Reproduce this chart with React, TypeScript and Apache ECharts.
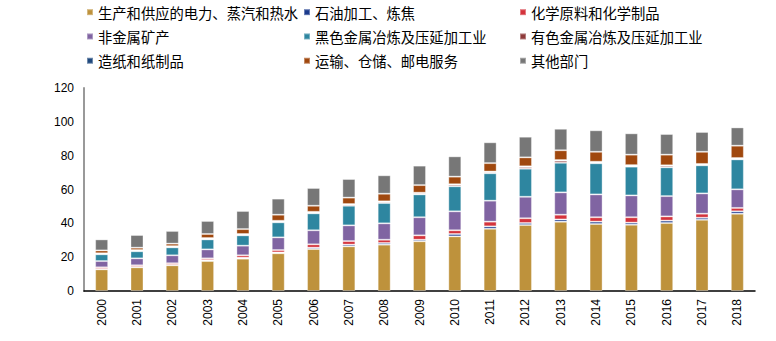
import React, { useEffect, useRef } from "react";
import * as echarts from "echarts";

const years = ["2000","2001","2002","2003","2004","2005","2006","2007","2008","2009","2010","2011","2012","2013","2014","2015","2016","2017","2018"];

const seriesNames = [
  "生产和供应的电力、蒸汽和热水",
  "石油加工、炼焦",
  "化学原料和化学制品",
  "非金属矿产",
  "黑色金属冶炼及压延加工业",
  "有色金属冶炼及压延加工业",
  "造纸和纸制品",
  "运输、仓储、邮电服务",
  "其他部门",
];

const power = [12.8,14.0,15.2,17.7,19.1,22.3,24.8,26.4,27.4,29.4,32.3,36.8,39.0,41.0,39.6,39.2,40.2,42.1,45.7];
const petroleum = [0.3,0.3,0.3,0.6,0.6,0.5,0.8,1.0,1.0,0.9,1.4,1.4,1.2,1.3,1.4,1.2,1.4,1.2,1.4];
const chemical = [0.9,0.9,0.9,1.0,1.4,1.4,2.0,2.1,1.9,2.6,2.2,2.8,2.8,2.8,2.6,3.2,2.5,2.4,2.0];
const nonMetal = [3.7,4.1,4.7,5.3,5.7,7.5,8.3,9.3,9.7,10.7,11.2,12.4,12.7,13.2,13.5,12.9,12.0,12.0,11.0];
const ferrous = [4.0,4.2,4.7,5.9,6.1,8.9,10.0,11.6,12.0,13.5,14.8,16.2,16.6,17.5,18.4,17.0,17.0,16.6,17.7];
const nonFerrous = [0.4,0.5,0.5,0.5,0.5,0.6,0.6,0.7,0.7,0.7,0.9,0.7,1.0,1.2,0.6,0.6,0.9,0.5,0.5];
const paper = [0.2,0.2,0.2,0.3,0.3,0.3,0.3,0.3,0.3,0.3,0.3,0.3,0.4,0.4,0.3,0.3,0.3,0.3,0.3];
const transport = [1.7,1.4,1.5,2.4,2.9,3.6,3.6,3.8,4.5,4.5,4.5,5.0,5.3,5.8,5.9,6.2,6.3,7.2,7.3];
const others = [6.5,7.5,7.5,7.7,10.7,9.5,10.5,11.0,10.9,11.5,12.0,12.3,12.2,12.7,12.7,12.6,12.2,11.7,10.8];

const yTicks = { min: 0, max: 120, interval: 20 };

const allData = [power, petroleum, chemical, nonMetal, ferrous, nonFerrous, paper, transport, others];
const colors = ["#BE923C", "#1B3A8C", "#D4333C", "#8064A2", "#2E86A0", "#8E3A3A", "#1F497D", "#A0480E", "#777777"];

const legendCols = [
  [seriesNames[0], seriesNames[3], seriesNames[6]],
  [seriesNames[1], seriesNames[4], seriesNames[7]],
  [seriesNames[2], seriesNames[5], seriesNames[8]],
];
const legendLefts = [86, 303, 519];

export default function App() {
  const ref = useRef<HTMLDivElement>(null);
  useEffect(() => {
    document.body.style.margin = "0";
    if (!ref.current) return;
    const chart = echarts.init(ref.current, undefined, { renderer: "svg" });
    const cjk = "'Noto Sans CJK SC', 'Noto Sans', sans-serif";
    const latin = "'Liberation Sans', Arial, sans-serif";
    chart.setOption({
      animation: false,
      color: colors,
      legend: legendCols.map((col, i) => ({
        orient: "vertical",
        left: legendLefts[i],
        top: 5,
        padding: 0,
        itemWidth: 6,
        itemHeight: 6,
        itemGap: 10,
        icon: "rect",
        data: col,
        textStyle: { fontFamily: cjk, fontSize: 14.3, color: "#000", lineHeight: 14 },
      })),
      grid: { left: 84, right: 21, top: 88, bottom: 50, containLabel: false },
      xAxis: {
        type: "category",
        data: years,
        axisLine: { show: true, lineStyle: { color: "#000", width: 1.5 } },
        axisTick: { show: false },
        axisLabel: { rotate: 90, margin: 8, fontSize: 12, color: "#000", fontFamily: latin },
      },
      yAxis: {
        type: "value",
        min: yTicks.min,
        max: yTicks.max,
        interval: yTicks.interval,
        axisLine: { show: true, lineStyle: { color: "#999", width: 2 } },
        axisTick: { show: false },
        splitLine: { show: false },
        axisLabel: { fontSize: 12, color: "#000", margin: 10, fontFamily: latin },
      },
      series: seriesNames.map((name, i) => ({
        name,
        type: "bar",
        stack: "total",
        barWidth: 13,
        data: allData[i],
        itemStyle: { color: colors[i], borderColor: "rgba(255,255,255,0.35)", borderWidth: 1 },
      })),
    });
    return () => chart.dispose();
  }, []);
  return <div ref={ref} style={{ width: 776, height: 341 }} />;
}
